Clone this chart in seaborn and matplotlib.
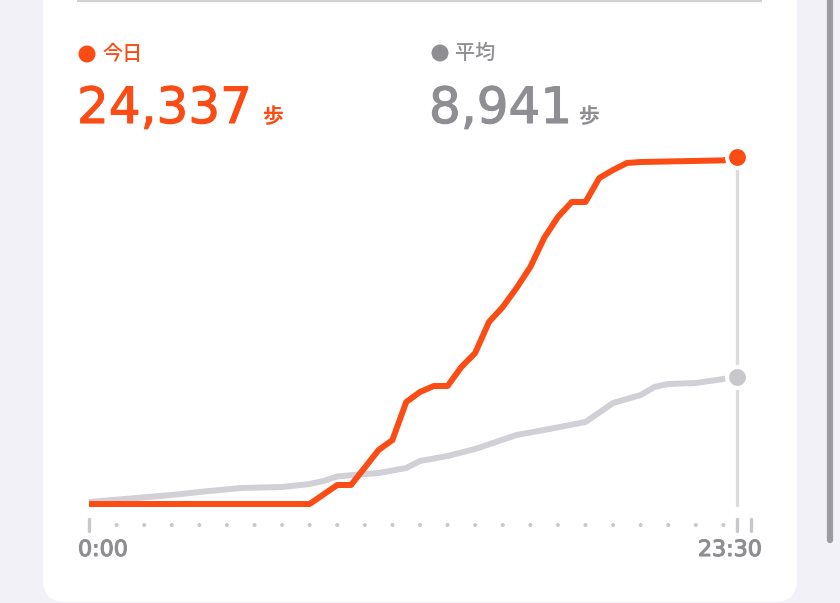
import matplotlib
matplotlib.use("Agg")
import matplotlib.pyplot as plt
import matplotlib.patheffects as pe
from matplotlib.patches import FancyBboxPatch
import seaborn as sns
import pandas as pd

# cumulative steps (hour of day -> steps)
today_hours = [0, 8, 9, 9.5, 10.5, 11, 11.5, 12, 12.5, 13, 13.5, 14, 14.5, 15, 15.5,
               16, 16.5, 17, 17.5, 18, 18.5, 19, 19.5, 20, 23, 23.5]
today_steps = [0, 0, 1333, 1333, 3787, 4489, 7154, 7855, 8276, 8276, 9609, 10591,
               12765, 13817, 15149, 16622, 18656, 20129, 21181, 21181, 22864, 23425,
               23916, 23986, 24100, 24337]

avg_hours = [0, 3, 4, 5.5, 7, 8, 8.5, 9, 10, 10.5, 11.5, 12, 13, 14, 15.5, 16.5,
             18, 19, 20, 20.5, 21, 22, 23, 23.5]
avg_steps = [140, 631, 842, 1122, 1192, 1403, 1613, 1929, 2104, 2174, 2525, 3016,
             3367, 3857, 4839, 5190, 5751, 7084, 7645, 8206, 8416, 8486, 8767, 8941]

tick_dots = list(range(1, 24))
tick_bars = [0, 23.5, 24]
x_labels = ["0:00", "23:30"]

today_label = "今日"
avg_label = "平均"
today_total = "24,337"
avg_total = "8,941"
unit = "歩"

ORANGE = "#fa4c14"
GRAY_TXT = "#8e8e93"
GRAY_LINE = "#d1d0d6"
GRAY_DOT = "#c7c7cc"
BG = "#f2f1f7"
CJK = ["Noto Sans CJK JP"]

sns.set_theme(style="white")
plt.rcParams["font.family"] = ["DejaVu Sans", "Noto Sans CJK JP"]


def thick(color, w):
    return [pe.withStroke(linewidth=w, foreground=color)]


fig = plt.figure(figsize=(8.4, 6.03), dpi=100)
fig.patch.set_facecolor(BG)

# background layer in pixel coordinates
bg = fig.add_axes([0, 0, 1, 1])
bg.set_xlim(0, 840)
bg.set_ylim(603, 0)
bg.axis("off")
bg.patch.set_alpha(0)
card = FancyBboxPatch((43, -60), 754, 662, boxstyle="round,pad=0,rounding_size=22",
                      facecolor="white", edgecolor="none")
bg.add_patch(card)
bg.plot([77, 762], [1, 1], color="#d1d1d6", lw=1.6, solid_capstyle="butt")
bg.plot([830, 830], [-10, 540], color="#9c9ca0", lw=4.5, solid_capstyle="round")

# legend block
bg.scatter([87], [54], s=(17 / 1.389) ** 2, color=ORANGE, edgecolor="none")
bg.text(102, 54, today_label, color=ORANGE, fontsize=14.5, va="center", ha="left",
        family=CJK, fontweight="medium")
bg.text(77, 123, today_total, color=ORANGE, fontsize=36, va="baseline", ha="left",
        path_effects=thick(ORANGE, 0.8))
bg.text(262, 123, unit, color=ORANGE, fontsize=15, va="baseline", ha="left",
        family=CJK, fontweight="bold")

bg.scatter([440], [53], s=(17 / 1.389) ** 2, color=GRAY_TXT, edgecolor="none")
bg.text(455, 53, avg_label, color=GRAY_TXT, fontsize=14.5, va="center", ha="left",
        family=CJK, fontweight="medium")
bg.text(429, 123, avg_total, color=GRAY_TXT, fontsize=36, va="baseline", ha="left",
        path_effects=thick(GRAY_TXT, 0.8))
bg.text(578, 123, unit, color=GRAY_TXT, fontsize=15, va="baseline", ha="left",
        family=CJK, fontweight="bold")

# chart axes: hour 0 at x=89px, hour 24 at x=751px, 0 steps at y=504px
px_per_step = 347 / 24337
top_px, bot_px, base_px = 140, 545, 504
ax = fig.add_axes([89 / 840, (603 - bot_px) / 603, 662 / 840, (bot_px - top_px) / 603])
ax.set_xlim(0, 24)
ax.set_ylim(-(bot_px - base_px) / px_per_step, (base_px - top_px) / px_per_step)
ax.axis("off")
ax.patch.set_alpha(0)


def py(px):
    # pixel offset below baseline -> data value
    return -(px - base_px) / px_per_step


df_today = pd.DataFrame({"hour": today_hours, "steps": today_steps})
df_avg = pd.DataFrame({"hour": avg_hours, "steps": avg_steps})

# vertical cursor line at current time
now = today_hours[-1]
ax.plot([now, now], [py(505), today_steps[-1]], color="#dcdcdf", lw=2.4,
        solid_capstyle="round", zorder=1)

sns.lineplot(data=df_avg, x="hour", y="steps", ax=ax, color=GRAY_LINE, lw=4.3,
             zorder=2, solid_joinstyle="round", solid_capstyle="round")
sns.lineplot(data=df_today, x="hour", y="steps", ax=ax, color=ORANGE, lw=4.3,
             zorder=3, solid_joinstyle="round", solid_capstyle="round")

ax.plot([avg_hours[-1]], [avg_steps[-1]], "o", ms=15, color=GRAY_DOT,
        mec="white", mew=2.9, zorder=4)
ax.plot([today_hours[-1]], [today_steps[-1]], "o", ms=15, color=ORANGE,
        mec="white", mew=2.9, zorder=5)

# x axis dots and bars
ax.scatter(tick_dots, [py(525)] * len(tick_dots), s=8, color=GRAY_DOT,
           edgecolor="none", clip_on=False)
for h in tick_bars:
    ax.plot([h, h], [py(519), py(531)], color=GRAY_DOT, lw=2.4,
            solid_capstyle="round", clip_on=False)

bg.text(78, 550, x_labels[0], color=GRAY_TXT, fontsize=16, va="center", ha="left",
        path_effects=thick(GRAY_TXT, 0.8))
bg.text(762, 550, x_labels[1], color=GRAY_TXT, fontsize=16, va="center", ha="right",
        path_effects=thick(GRAY_TXT, 0.8))

fig.savefig("out.png", dpi=100, facecolor=BG)
